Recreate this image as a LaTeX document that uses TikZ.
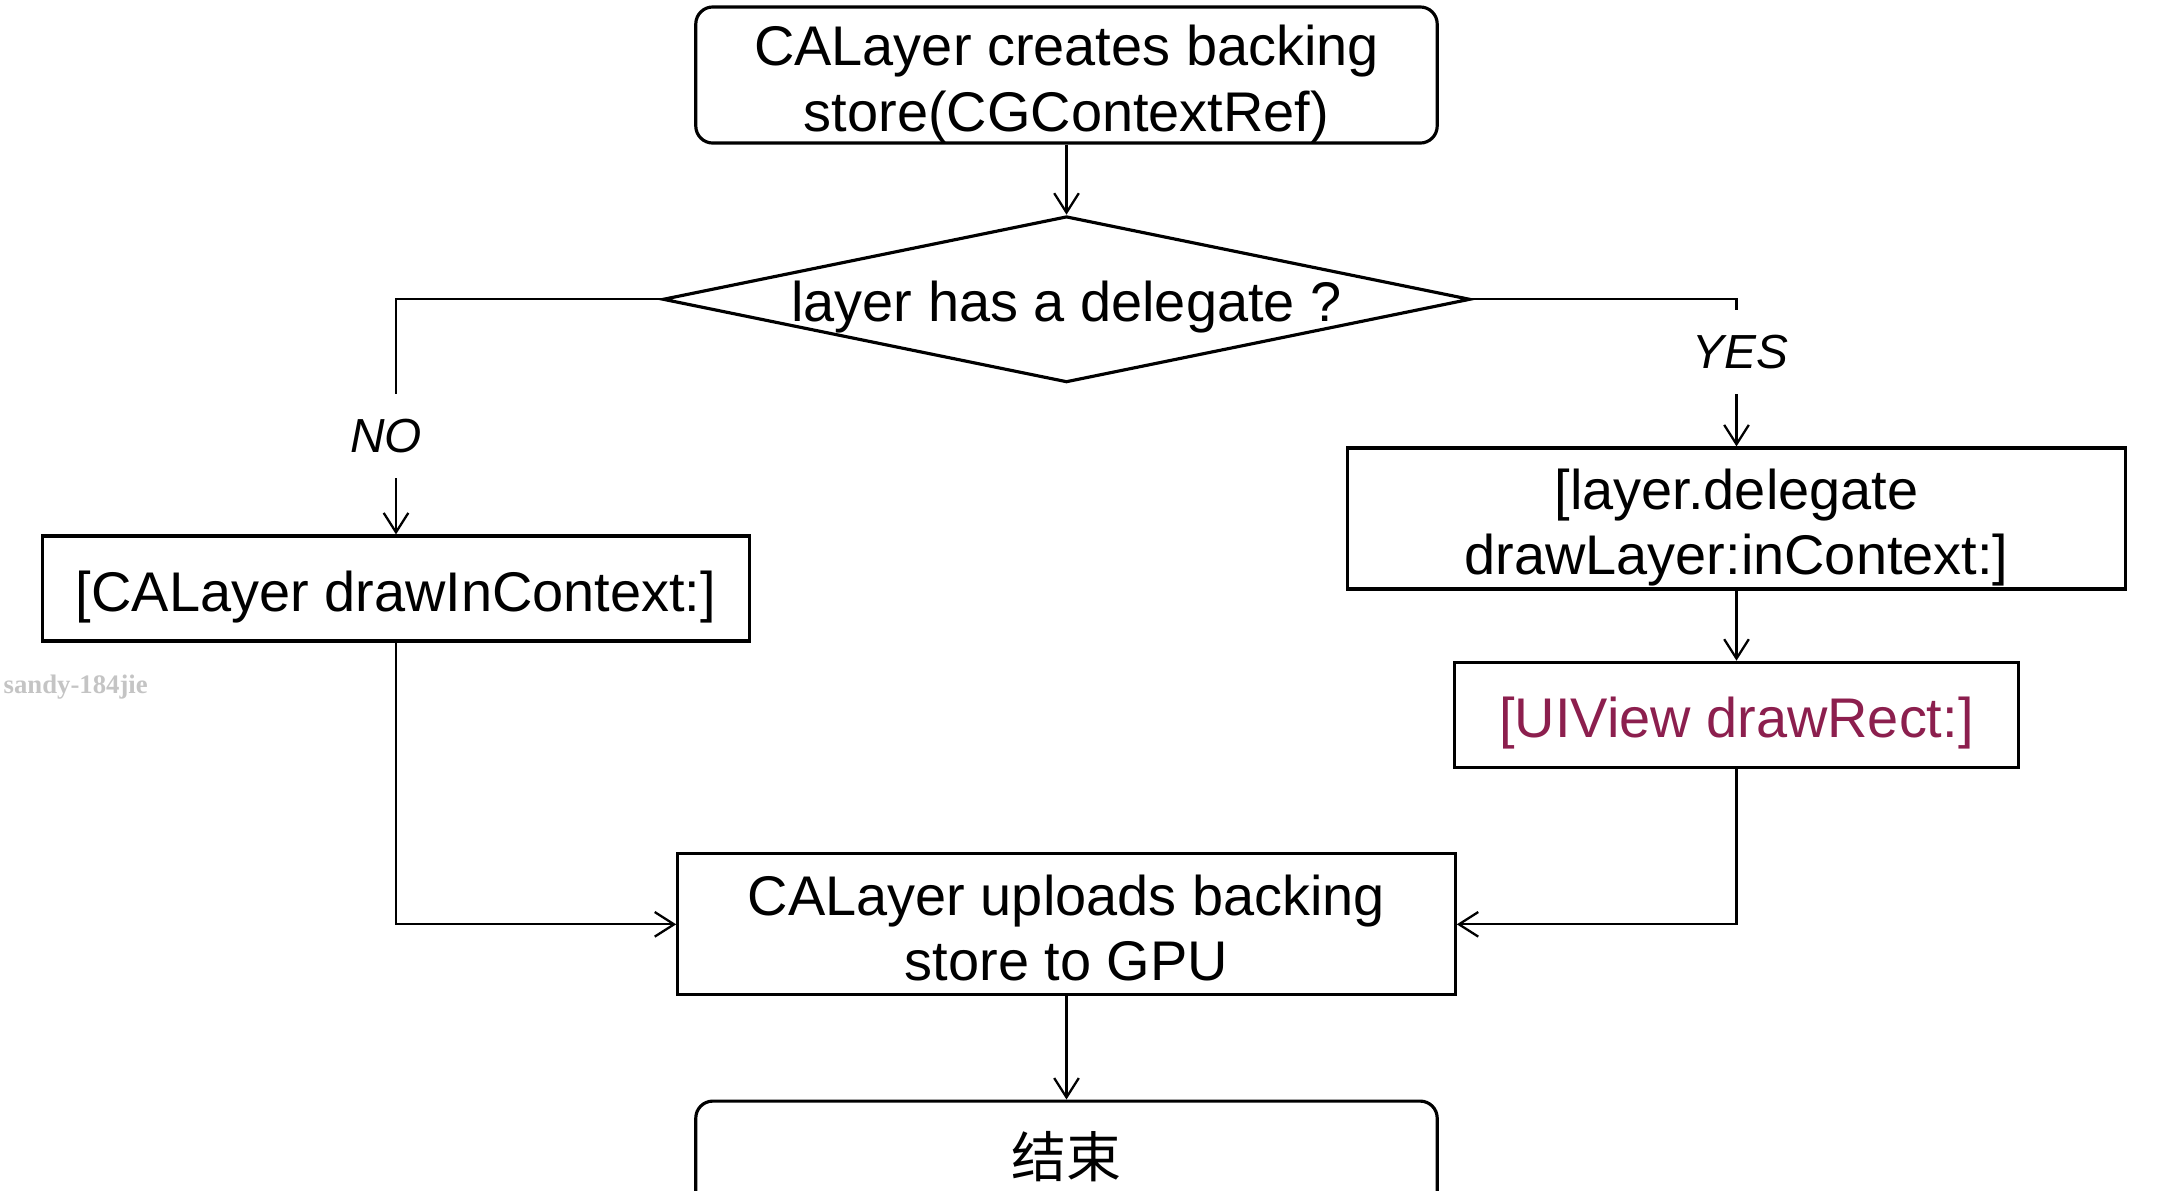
\documentclass[tikz,border=0pt]{standalone}
\usepackage{fontspec}
\setmainfont{Liberation Sans}
\newfontfamily\cjkfont{Noto Sans CJK SC}
\newfontfamily\markfont{Liberation Serif}
\usetikzlibrary{shapes.geometric, arrows.meta, positioning}
\definecolor{viewred}{HTML}{8C1F4E}
\definecolor{markgray}{HTML}{C4C4C4}

\begin{document}
\begin{tikzpicture}[x=0.01cm, y=-0.01cm, font=\fontsize{15.9}{18.5}\selectfont,
    flowbox/.style={draw, line width=0.9pt, inner sep=2pt, align=center},
    roundbox/.style={flowbox, rounded corners=0.17cm},
    oneline/.style={text height=0.57cm, text depth=0.12cm},
    twoline/.style={text height=1.12cm, text depth=0cm},
    flowline/.style={line width=0.65pt, -{Straight Barb[length=5.5pt, width=7pt]}},
    answer/.style={fill=white, inner xsep=2pt, inner ysep=0.25cm, font=\fontsize{13.6}{16}\selectfont\itshape}]
\useasboundingbox (0,0) rectangle (2162,1190);
% middle column
\node[roundbox, twoline, minimum width=7.41cm, minimum height=1.36cm] (create) at (1066.5,75) {CALayer creates backing\\store(CGContextRef)};
\node[draw, diamond, line width=0.9pt, aspect=4.86, minimum width=8.07cm, minimum height=1.66cm, inner sep=0pt, text height=0.45cm, text depth=0cm, below=0.70cm of create] (hasdel) {layer has a delegate ?};
\node[flowbox, twoline, minimum width=7.77cm, minimum height=1.41cm, below=4.68cm of hasdel] (upload) {CALayer uploads backing\\store to GPU};
\node[roundbox, minimum width=7.41cm, minimum height=1.10cm, below=1.03cm of upload, font=\cjkfont\fontsize{15.6}{18}\selectfont] (finish) {结束};
% side columns
\node[flowbox, oneline, minimum width=7.06cm, minimum height=1.05cm] (drawctx) at (396,588.5) {[CALayer drawInContext:]};
\node[flowbox, twoline, minimum width=7.77cm, minimum height=1.41cm] (delegate) at (1736.5,518.5) {[layer.delegate\\drawLayer:inContext:]};
\node[flowbox, oneline, minimum width=5.64cm, minimum height=1.05cm, below=0.70cm of delegate, text=viewred] (uiview) {[UIView drawRect:]};
\node[anchor=west, inner sep=0pt, text=markgray, font=\markfont\bfseries\fontsize{7.6}{9}\selectfont] (mark) at (3,687) {sandy-184jie};
% connectors
\draw[flowline] (create) -- (hasdel);
\draw[flowline] (hasdel.west) -| node[answer, pos=0.79, xshift=-0.1cm] {NO} (drawctx.north);
\draw[flowline] (hasdel.east) -| node[answer, pos=0.68, xshift=0.04cm] {YES} (delegate.north);
\draw[flowline] (delegate) -- (uiview);
\draw[flowline] (drawctx.south) |- (upload.west);
\draw[flowline] (uiview.south) |- (upload.east);
\draw[flowline] (upload) -- (finish);
\end{tikzpicture}
\end{document}
